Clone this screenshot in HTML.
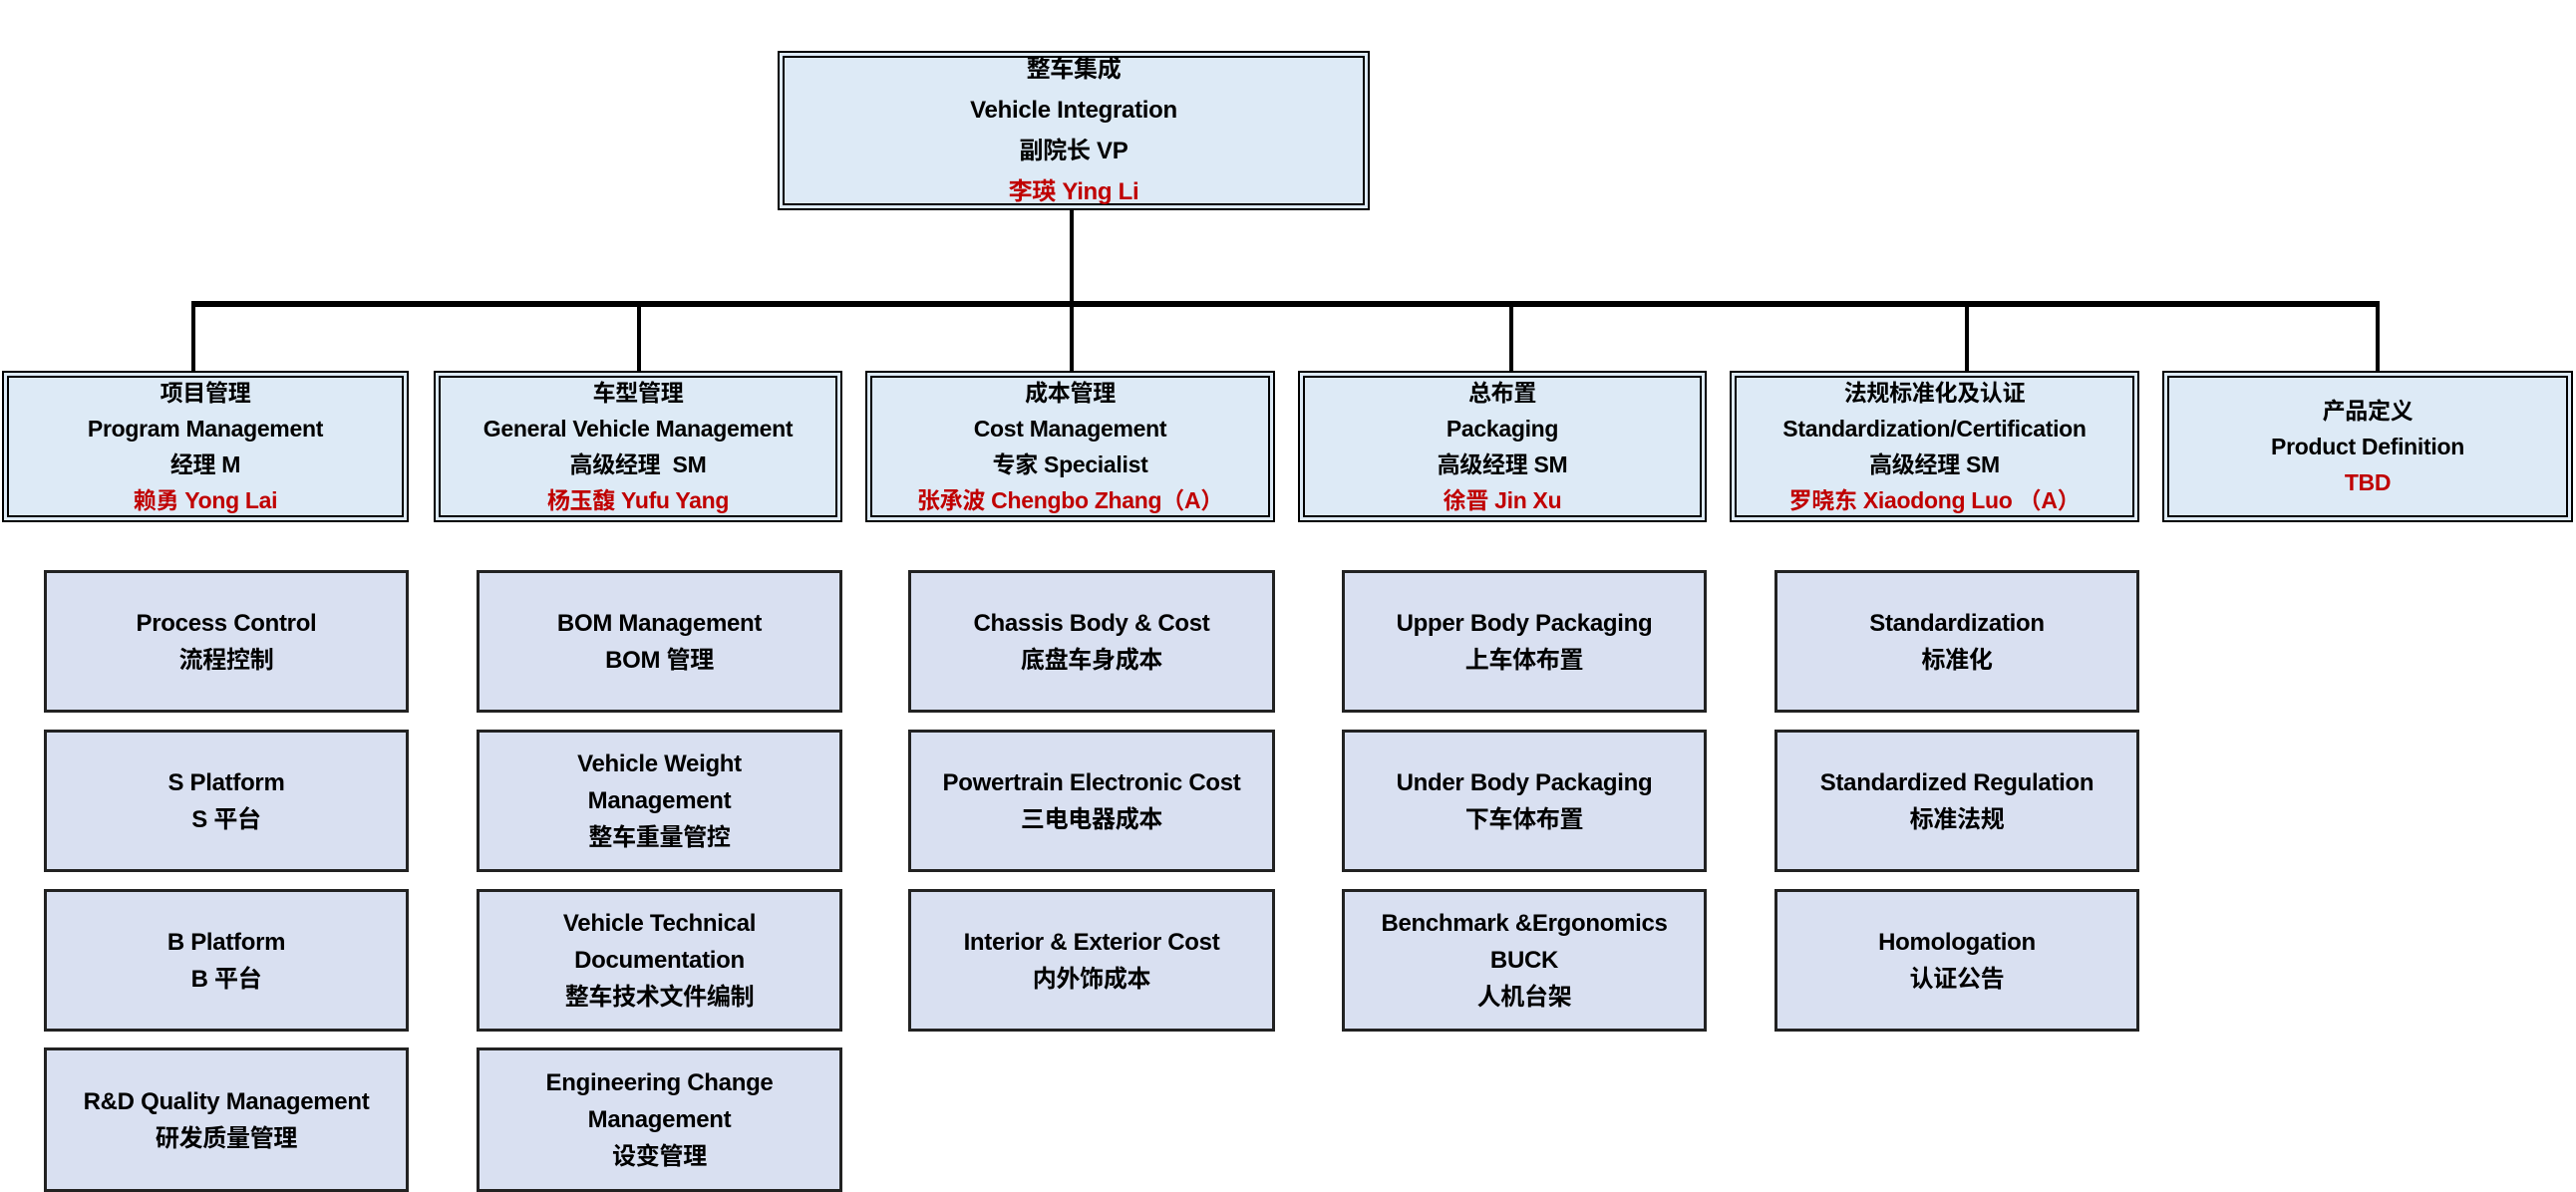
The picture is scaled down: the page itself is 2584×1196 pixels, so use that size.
<!DOCTYPE html>
<html><head><meta charset="utf-8"><style>
html,body{margin:0;padding:0;background:#fff;}
body{width:2584px;height:1196px;position:relative;overflow:hidden;font-family:"Liberation Sans","Noto Sans CJK SC",sans-serif;font-weight:bold;color:#000;}
.b{position:absolute;box-sizing:border-box;display:flex;flex-direction:column;justify-content:center;align-items:center;text-align:center;}
.d{border:7px double #000;background:#ddeaf6;font-size:23px;line-height:36px;letter-spacing:-0.3px;}
.s{border:3px solid #222;background:#d9e0f1;font-size:24px;line-height:37px;letter-spacing:-0.3px;}
.r{color:#c00000;}
.l{position:absolute;background:#000;}
</style></head><body>
<div class="b d" style="left:780px;top:51px;width:594px;height:160px;line-height:41px;font-size:24px;"><div>整车集成</div><div>Vehicle Integration</div><div>副院长 VP</div><div class="r">李瑛 Ying Li</div></div>
<div class="l" style="left:1073px;top:211px;width:4px;height:162px"></div>
<div class="l" style="left:192px;top:302px;width:2195px;height:6px"></div>
<div class="l" style="left:192px;top:305px;width:4px;height:67px"></div>
<div class="l" style="left:639px;top:305px;width:4px;height:67px"></div>
<div class="l" style="left:1514px;top:305px;width:4px;height:67px"></div>
<div class="l" style="left:1971px;top:305px;width:4px;height:67px"></div>
<div class="l" style="left:2383px;top:305px;width:4px;height:67px"></div>

<div class="b d" style="left:2px;top:372px;width:408px;height:152px"><div>项目管理</div><div>Program Management</div><div>经理 M</div><div class="r">赖勇 Yong Lai</div></div>
<div class="b d" style="left:435px;top:372px;width:410px;height:152px"><div>车型管理</div><div>General Vehicle Management</div><div>高级经理&nbsp; SM</div><div class="r">杨玉馥 Yufu Yang</div></div>
<div class="b d" style="left:868px;top:372px;width:411px;height:152px"><div>成本管理</div><div>Cost Management</div><div>专家 Specialist</div><div class="r">张承波 Chengbo Zhang（A）</div></div>
<div class="b d" style="left:1302px;top:372px;width:410px;height:152px"><div>总布置</div><div>Packaging</div><div>高级经理 SM</div><div class="r">徐晋 Jin Xu</div></div>
<div class="b d" style="left:1735px;top:372px;width:411px;height:152px"><div>法规标准化及认证</div><div>Standardization/Certification</div><div>高级经理 SM</div><div class="r">罗晓东 Xiaodong Luo （A）</div></div>
<div class="b d" style="left:2169px;top:372px;width:412px;height:152px"><div>产品定义</div><div>Product Definition</div><div class="r">TBD</div></div>

<div class="b s" style="left:44px;top:572px;width:366px;height:143px"><div>Process Control</div><div>流程控制</div></div>
<div class="b s" style="left:44px;top:732px;width:366px;height:143px"><div>S Platform</div><div>S 平台</div></div>
<div class="b s" style="left:44px;top:892px;width:366px;height:143px"><div>B Platform</div><div>B 平台</div></div>
<div class="b s" style="left:44px;top:1051px;width:366px;height:145px"><div>R&amp;D Quality Management</div><div>研发质量管理</div></div>

<div class="b s" style="left:478px;top:572px;width:367px;height:143px"><div>BOM Management</div><div>BOM 管理</div></div>
<div class="b s" style="left:478px;top:732px;width:367px;height:143px"><div>Vehicle Weight</div><div>Management</div><div>整车重量管控</div></div>
<div class="b s" style="left:478px;top:892px;width:367px;height:143px"><div>Vehicle Technical</div><div>Documentation</div><div>整车技术文件编制</div></div>
<div class="b s" style="left:478px;top:1051px;width:367px;height:145px"><div>Engineering Change</div><div>Management</div><div>设变管理</div></div>

<div class="b s" style="left:911px;top:572px;width:368px;height:143px"><div>Chassis Body &amp; Cost</div><div>底盘车身成本</div></div>
<div class="b s" style="left:911px;top:732px;width:368px;height:143px"><div>Powertrain Electronic Cost</div><div>三电电器成本</div></div>
<div class="b s" style="left:911px;top:892px;width:368px;height:143px"><div>Interior &amp; Exterior Cost</div><div>内外饰成本</div></div>

<div class="b s" style="left:1346px;top:572px;width:366px;height:143px"><div>Upper Body Packaging</div><div>上车体布置</div></div>
<div class="b s" style="left:1346px;top:732px;width:366px;height:143px"><div>Under Body Packaging</div><div>下车体布置</div></div>
<div class="b s" style="left:1346px;top:892px;width:366px;height:143px"><div>Benchmark &amp;Ergonomics</div><div>BUCK</div><div>人机台架</div></div>

<div class="b s" style="left:1780px;top:572px;width:366px;height:143px"><div>Standardization</div><div>标准化</div></div>
<div class="b s" style="left:1780px;top:732px;width:366px;height:143px"><div>Standardized Regulation</div><div>标准法规</div></div>
<div class="b s" style="left:1780px;top:892px;width:366px;height:143px"><div>Homologation</div><div>认证公告</div></div>
</body></html>
